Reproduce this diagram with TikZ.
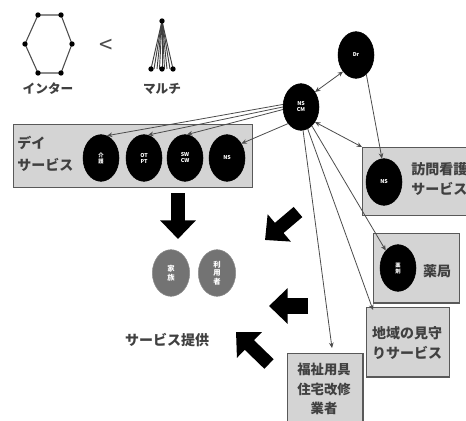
\documentclass[tikz,border=0pt]{standalone}
\usepackage{fontspec}
\newfontfamily\jp{Noto Sans CJK JP}
\usetikzlibrary{arrows.meta,shapes.geometric}
\tikzset{
  bc/.style={ellipse, fill=black, draw=black, minimum width=27pt, minimum height=35pt, inner sep=0pt, text=white, align=center, font=\jp\bfseries\fontsize{4}{4.5}\selectfont},
  gc/.style={ellipse, fill=black!55, draw=black!45, minimum width=28pt, minimum height=35pt, inner sep=0pt, text=white, align=center, font=\jp\bfseries\fontsize{5.5}{6.5}\selectfont},
  box/.style={rectangle, fill=black!17, draw=black!65, line width=0.9pt, anchor=north west, inner sep=0pt},
  jt/.style={font=\jp\bfseries\fontsize{10.5}{15}\selectfont, text=black!75, inner sep=0pt, align=center},
  conn/.style={draw=black!70, line width=0.6pt, -{Stealth[length=4pt,width=3.5pt]}},
  bconn/.style={draw=black!70, line width=0.6pt, {Stealth[length=4pt,width=3.5pt]}-{Stealth[length=4pt,width=3.5pt]}},
  blockarrow/.style={draw=black, line width=10pt, -{Triangle[length=14pt,width=26pt]}},
  dot/.style={circle, fill=black, inner sep=0pt, minimum size=4pt},
}
\begin{document}
\begin{tikzpicture}[x=0.75pt,y=-0.75pt]
\useasboundingbox (0,0) rectangle (466,420);

% hexagon (inter)
\coordinate (h1) at (38,15); \coordinate (h2) at (61,15); \coordinate (h3) at (72,44);
\coordinate (h4) at (61,73); \coordinate (h5) at (38,73); \coordinate (h6) at (25,44);
\draw[black!70, line width=0.8pt] (h1)--(h2)--(h3)--(h4)--(h5)--(h6)--cycle;
\foreach \h in {h1,h2,h3,h4,h5,h6} \node[dot] at (\h) {};
\node[jt, font=\jp\bfseries\fontsize{9.5}{11}\selectfont] (inter) at (48,89) {インター};
\node[font=\jp\fontsize{18}{18}\selectfont, text=black!70, inner sep=0pt] (lt) at (106,46) {<};

% fan (multi)
\coordinate (m0) at (162,21);
\foreach \x in {151,154,157,159.5,162,164.5,167,170,173} \draw[black!75, line width=0.7pt] (m0) -- (\x,69);
\node[dot] at (m0) {};
\node[dot] at (151,69) {}; \node[dot] at (162,69) {}; \node[dot] at (173,69) {};
\node[jt, font=\jp\bfseries\fontsize{9.5}{11}\selectfont] (multi) at (162,89) {マルチ};

% day service box
\node[box, minimum width=179pt, minimum height=47pt] (day) at (13,124) {};
\node[jt, anchor=west] (dayt1) at (17,143) {デイ};
\node[jt, anchor=west] (dayt2) at (17,165) {サービス};
\node[bc] (c1) at (101,158) {介\\護};
\node[bc] (c2) at (144,158) {OT\\PT};
\node[bc] (c3) at (185,158) {SW\\CW};
\node[bc] (c4) at (227,158) {NS};

% top circles
\node[bc] (nscm) at (301,107) {NS\\CM};
\node[bc] (dr) at (356,55) {Dr};

% visiting nursing
\node[box, minimum width=82pt, minimum height=51pt] (vbox) at (362,147) {};
\node[bc] (vns) at (384,182) {NS};
\node[jt, anchor=west, align=left] (vtxt) at (411,179) {訪問看護\\サービス};

% pharmacy
\node[box, minimum width=64.5pt, minimum height=52pt] (pbox) at (373,233) {};
\node[bc] (pc) at (398,268) {薬\\剤};
\node[jt] (ptxt) at (437,271) {薬局};

% community watch
\node[box, minimum width=62pt, minimum height=52pt] (wbox) at (366,307) {};
\node[jt] (wtxt) at (407,343) {地域の見守\\りサービス};

% welfare equipment
\node[box, minimum width=56.5pt, minimum height=54pt] (fbox) at (287,353) {};
\node[jt, font=\jp\bfseries\fontsize{10}{14.5}\selectfont] (ftxt) at (324,389) {福祉用具\\住宅改修\\業者};

% recipients
\node[gc] (g1) at (171,273) {家\\族};
\node[gc] (g2) at (217,273) {利\\用\\者};
\node[jt] (prov) at (167,340) {サービス提供};

% block arrows
\coordinate (a0s) at (178,193); \coordinate (a0e) at (178,239);
\coordinate (a1s) at (298,212); \coordinate (a1e) at (265,240);
\coordinate (a2s) at (308,306); \coordinate (a2e) at (269,306);
\coordinate (a3s) at (269,364); \coordinate (a3e) at (236,332);
\draw[blockarrow] (a0s) -- (a0e);
\draw[blockarrow] (a1s) -- (a1e);
\draw[blockarrow, line width=12pt] (a2s) -- (a2e);
\draw[blockarrow] (a3s) -- (a3e);

% connectors
\draw[conn] (nscm.172) -- (c1.75);
\draw[conn] (nscm.180) -- (c2.80);
\draw[conn] (nscm.188) -- (c3.85);
\draw[conn] (nscm.232) -- (c4.45);
\draw[bconn] (nscm.47) -- (dr.232);
\draw[conn] (dr.298) -- (vns.95);
\draw[bconn] (nscm.313) -- (vbox.north west);
\coordinate (win) at (373,310);
\coordinate (fin) at (332,348);
\draw[conn] (nscm.300) -- (pc.125);
\draw[conn] (nscm.287) -- (win);
\draw[conn] (nscm.275) -- (fin);
\end{tikzpicture}
\end{document}
